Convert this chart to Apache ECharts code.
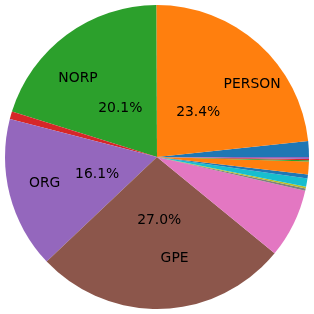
<!DOCTYPE html>
<html>
<head>
<meta charset="utf-8">
<script src="https://cdn.jsdelivr.net/npm/echarts@6/dist/echarts.min.js"></script>
<style>
html,body{margin:0;padding:0;background:#fff;}
#chart{width:314px;height:314px;}
</style>
</head>
<body>
<div id="chart"></div>
<script>
// Slice order: counterclockwise from 3 o'clock
var categories = ['WORK_OF_ART','PERSON','NORP','LOC','ORG','GPE','DATE','CARDINAL','ORDINAL','EVENT','PRODUCT','FAC','LAW','LANGUAGE','MONEY'];
var values = [1.67, 23.4, 20.1, 0.8, 16.1, 27.0, 7.36, 0.25, 0.17, 0.89, 0.42, 1.36, 0.14, 0.11, 0.22];
var shownLabels = ['', 'PERSON', 'NORP', '', 'ORG', 'GPE', '', '', '', '', '', '', '', '', ''];
var colors = ['#1f77b4','#ff7f0e','#2ca02c','#d62728','#9467bd','#8c564b','#e377c2','#7f7f7f','#bcbd22','#17becf'];

var total = values.reduce(function(a,b){return a+b;},0);
var R = 152;
var cx = 157, cy = 157;
var FONT = 'DejaVu Sans';
var FS = 13.9;

var mainData = [], nameData = [], pctData = [], aligns = [];
var cum = 0;
values.forEach(function(v, i){
  var mid = (cum + v/2) / total * 2 * Math.PI;
  cum += v;
  var c = colors[i % colors.length];
  aligns.push(Math.cos(mid) >= 0 ? 'left' : 'right');
  mainData.push({name: categories[i], value: v, itemStyle: {color: c}});
  var show = shownLabels[i] !== '';
  nameData.push({
    name: categories[i], value: v,
    label: {show: show, formatter: shownLabels[i]}
  });
  pctData.push({
    name: categories[i], value: v,
    label: {show: show, formatter: (v/total*100).toFixed(1) + '%'}
  });
});

var overlayBase = {
  type: 'pie',
  center: [cx, cy],
  startAngle: 0,
  clockwise: false,
  silent: true,
  animation: false,
  avoidLabelOverlap: false,
  minShowLabelAngle: 0,
  itemStyle: {color: 'transparent', borderWidth: 0},
  labelLine: {show: false},
  emphasis: {disabled: true}
};

var option = {
  backgroundColor: '#ffffff',
  animation: false,
  series: [
    {
      type: 'pie',
      center: [cx, cy],
      radius: [0, R],
      startAngle: 0,
      clockwise: false,
      animation: false,
      avoidLabelOverlap: false,
      itemStyle: {borderWidth: 0},
      label: {show: false},
      labelLine: {show: false},
      emphasis: {disabled: true},
      data: mainData
    },
    Object.assign({}, overlayBase, {
      radius: [0, (R * 0.65 - 2) * 2],
      label: {show: true, position: 'inside', color: '#000', fontFamily: FONT, fontSize: FS, verticalAlign: 'middle', offset: [0, 1.5]},
      labelLayout: function(p){ return {align: aligns[p.dataIndex]}; },
      data: nameData
    }),
    Object.assign({}, overlayBase, {
      radius: [0, (R * 0.4 - 2) * 2],
      label: {show: true, position: 'inside', color: '#000', fontFamily: FONT, fontSize: FS, align: 'center', verticalAlign: 'middle', offset: [0, 1.5]},
      data: pctData
    })
  ]
};

var chart = echarts.init(document.getElementById('chart'), null, {renderer: 'canvas'});
chart.setOption(option);
</script>
</body>
</html>
